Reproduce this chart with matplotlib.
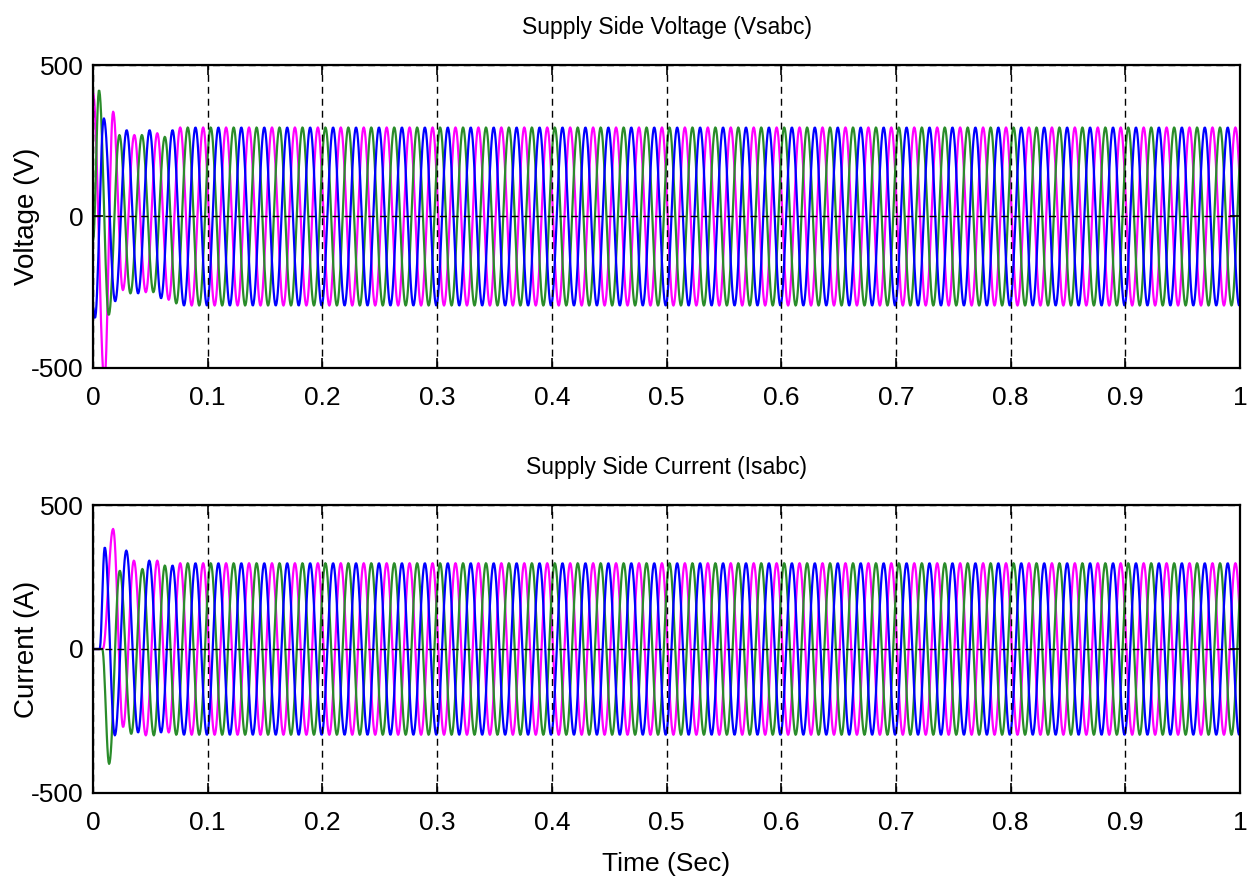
import numpy as np
import matplotlib
matplotlib.use("Agg")
import matplotlib.pyplot as plt

plt.rcParams['font.family'] = ['Liberation Sans', 'DejaVu Sans']
plt.rcParams['axes.unicode_minus'] = False

# ---- data ----
F_HZ = 50          # supply frequency
T_END = 1.0
V_PEAK = 294       # steady-state voltage peak
I_PEAK = 298       # steady-state current peak

x_ticks = [0, 0.1, 0.2, 0.3, 0.4, 0.5, 0.6, 0.7, 0.8, 0.9, 1]
x_ticklabels = ['0', '0.1', '0.2', '0.3', '0.4', '0.5', '0.6', '0.7', '0.8', '0.9', '1']
y_ticks = [-500, 0, 500]

# start-up extrema (time in s, value) per phase, voltage
va_t = [0.0, 0.0099, 0.0175, 0.026, 0.036, 0.046, 0.056, 0.066]
va_v = [407, -540, 346, -243, 269, -250, 275, -275]
vb_t = [0.0, 0.0052, 0.0137, 0.023, 0.0326, 0.0426, 0.0526, 0.0626, 0.0726]
vb_v = [-80, 417, -325, 269, -254, 269, -250, 263, -287]
vc_t = [0.0, 0.0017, 0.0094, 0.0193, 0.0293, 0.0393, 0.0493, 0.0593, 0.0693]
vc_v = [-300, -335, 324, -280, 285, -254, 285, -270, 285]

# start-up extrema per phase, current
ia_t = [0.0, 0.0085, 0.0175, 0.0262, 0.0356, 0.046, 0.056, 0.066]
ia_v = [0, 0, 417, -271, 307, -300, 307, -290]
ib_t = [0.0, 0.008, 0.014, 0.0233, 0.0333, 0.043, 0.053, 0.0626]
ib_v = [0, 0, -399, 272, -295, 278, -300, 290]
ic_t = [0.0, 0.0058, 0.0102, 0.019, 0.029, 0.0393, 0.049, 0.0593, 0.0693]
ic_v = [0, 0, 353, -300, 342, -290, 307, -290, 290]

col_a = '#ff00ff'
col_b = '#2a8c2a'
col_c = '#0000ff'


def trace(ext_t, ext_v, peak, t):
    # extend the start-up extrema with steady half-cycles, then join
    # neighbouring extrema with half-cosine segments
    ts = list(ext_t)
    vs = list(ext_v)
    sign = -np.sign(vs[-1])
    while ts[-1] < T_END:
        ts.append(ts[-1] + 0.5 / F_HZ)
        vs.append(sign * peak)
        sign = -sign
    ts = np.array(ts)
    vs = np.array(vs, dtype=float)
    seg = np.clip(np.searchsorted(ts, t, side='right') - 1, 0, len(ts) - 2)
    t0, t1 = ts[seg], ts[seg + 1]
    v0, v1 = vs[seg], vs[seg + 1]
    frac = (t - t0) / (t1 - t0)
    return v0 + (v1 - v0) * (1 - np.cos(np.pi * frac)) / 2


# scope sample time
t = np.arange(0, T_END + 1e-9, 0.0005)

fig = plt.figure(figsize=(12.49, 8.88), dpi=100)
ax1 = fig.add_axes([0.0745, 0.5856, 0.9183, 0.3412])
ax2 = fig.add_axes([0.0745, 0.1070, 0.9183, 0.3243])

panels = [
    (ax1, [(va_t, va_v), (vb_t, vb_v), (vc_t, vc_v)], V_PEAK,
     'Supply Side Voltage (Vsabc)', 'Voltage (V)'),
    (ax2, [(ia_t, ia_v), (ib_t, ib_v), (ic_t, ic_v)], I_PEAK,
     'Supply Side Current (Isabc)', 'Current (A)'),
]

for ax, phases, peak, title, ylab in panels:
    for (pt, pv), c in zip(phases, [col_a, col_b, col_c]):
        ax.plot(t, trace(pt, pv, peak, t), color=c, lw=1.6)
    ax.set_xlim(0, 1)
    ax.set_ylim(-500, 500)
    ax.set_xticks(x_ticks)
    ax.set_xticklabels(x_ticklabels)
    ax.set_yticks(y_ticks)
    ax.set_axisbelow(False)
    ax.grid(True, color='black', lw=1.0, linestyle=(0, (5, 3.6)))
    ax.tick_params(direction='in', length=7, width=1.2, top=True, right=True,
                   labelsize=19, colors='black')
    ax.tick_params(axis='x', pad=13)
    ax.tick_params(axis='y', pad=7)
    for s in ax.spines.values():
        s.set_linewidth(1.6)
    ax.set_title(title, fontsize=16.5, pad=22)
    ax.set_ylabel(ylab, fontsize=20)
    ax.yaxis.set_label_coords(-0.046, 0.5)

ax2.set_xlabel('Time (Sec)', fontsize=19, labelpad=12)

fig.savefig('out.png', dpi=100)
